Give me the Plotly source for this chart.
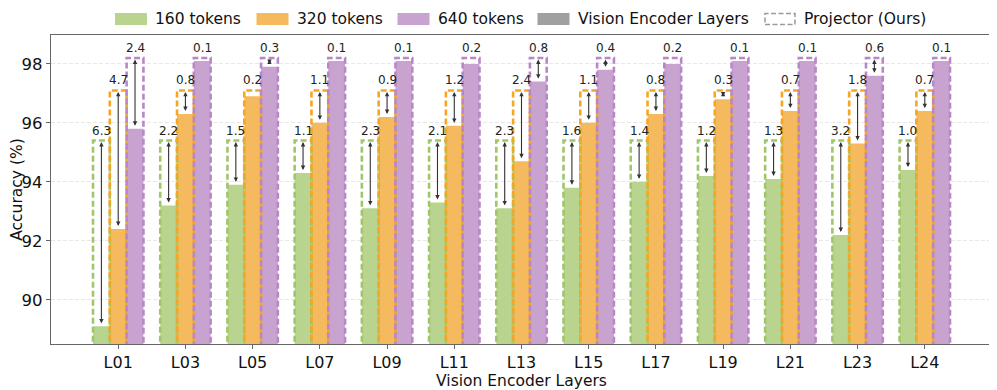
import plotly.graph_objects as go

# data
layers = ["L01", "L03", "L05", "L07", "L09", "L11", "L13", "L15", "L17", "L19", "L21", "L23", "L24"]

# accuracy of the vision encoder layers (bars)
enc_160 = [89.1, 93.2, 93.9, 94.3, 93.1, 93.3, 93.1, 93.8, 94.0, 94.2, 94.1, 92.2, 94.4]
enc_320 = [92.4, 96.3, 96.9, 96.0, 96.2, 95.9, 94.7, 96.0, 96.3, 96.8, 96.4, 95.3, 96.4]
enc_640 = [95.8, 98.1, 97.9, 98.1, 98.1, 98.0, 97.4, 97.8, 98.0, 98.1, 98.1, 97.6, 98.1]

# accuracy of the projector (dashed boxes)
proj_160 = [95.4] * 13
proj_320 = [97.1] * 13
proj_640 = [98.2] * 13

series = [
    ("160 tokens", enc_160, proj_160, "#b9d48f", "#9fc66a", -0.25),
    ("320 tokens", enc_320, proj_320, "#f5ba5e", "#f5a623", 0.0),
    ("640 tokens", enc_640, proj_640, "#c9a3d0", "#b888c6", 0.25),
]

Y_MIN, Y_MAX = 88.5, 98.98
W = 0.25
FONT = "DejaVu Sans"

# the page body has an 8px margin, so the figure is shrunk by that much
OFF = 8
FIG_W, FIG_H = 997 - OFF, 390 - OFF
L, T, PW, PH = 51, 35, 941, 309  # plot area in page pixels

fig = go.Figure()
shapes = []
annotations = []

for name, enc, proj, fill, edge, off in series:
    xs = [i + off for i in range(len(layers))]
    # projector boxes: white interior below the bars, dashed outline on top
    for x, p in zip(xs, proj):
        shapes.append(dict(type="rect", xref="x", yref="y", x0=x - W / 2, x1=x + W / 2,
                           y0=Y_MIN - 0.3, y1=p, fillcolor="white", line=dict(width=0),
                           layer="below"))
    fig.add_trace(go.Bar(x=xs, y=enc, width=W, name=name, marker_color=fill,
                         marker_line_width=0, showlegend=False))
    for x, p in zip(xs, proj):
        shapes.append(dict(type="rect", xref="x", yref="y", x0=x - W / 2, x1=x + W / 2,
                           y0=Y_MIN - 0.3, y1=p, fillcolor="rgba(0,0,0,0)",
                           line=dict(color=edge, width=2.6, dash="6px,3px"), layer="above"))
    # gap arrows and labels
    for x, v, p in zip(xs, enc, proj):
        annotations.append(dict(x=x, y=p, ax=x, ay=v, xref="x", yref="y", axref="x", ayref="y",
                                text="", showarrow=True, arrowside="end+start", arrowhead=2,
                                startarrowhead=2, arrowsize=0.8, startarrowsize=0.8,
                                arrowwidth=1.1, arrowcolor="#333333", standoff=1.5,
                                startstandoff=1.5))
        annotations.append(dict(x=x, y=p, xref="x", yref="y", text=f"{p - v:.1f}",
                                showarrow=False, yanchor="bottom", yshift=1,
                                font=dict(size=12, color="#222222", family=FONT)))


def px(x):
    return (x - L) / PW


def py(y):
    return (T + PH - y) / PH


# hand-drawn legend along the top
legend_items = [
    ("160 tokens", 115, "#b9d48f", None),
    ("320 tokens", 256.5, "#f5ba5e", None),
    ("640 tokens", 397.5, "#c9a3d0", None),
    ("Vision Encoder Layers", 537.5, "#a0a0a0", None),
    ("Projector (Ours)", 764, None, "#9a9a9a"),
]
for label, x0, fill, dash_col in legend_items:
    if fill:
        shapes.append(dict(type="rect", xref="paper", yref="paper", x0=px(x0), x1=px(x0 + 32),
                           y0=py(25), y1=py(13), fillcolor=fill, line=dict(width=0)))
    else:
        shapes.append(dict(type="rect", xref="paper", yref="paper", x0=px(x0 + 1), x1=px(x0 + 31),
                           y0=py(24.5), y1=py(13.5), fillcolor="rgba(0,0,0,0)",
                           line=dict(color=dash_col, width=1.5, dash="5px,2.5px")))
    annotations.append(dict(x=px(x0 + 38), y=py(19), xref="paper", yref="paper", text=label,
                            showarrow=False, xanchor="left", yanchor="middle",
                            font=dict(size=15.5, color="#111111", family=FONT)))

fig.update_layout(
    width=FIG_W, height=FIG_H,
    margin=dict(l=L - OFF, r=FIG_W - (L - OFF) - PW, t=T - OFF, b=FIG_H - (T - OFF) - PH),
    plot_bgcolor="white", paper_bgcolor="white",
    font=dict(family=FONT, size=15.5, color="#111111"),
    showlegend=False,
    shapes=shapes,
    annotations=annotations,
)
fig.update_xaxes(
    range=[-1, len(layers)], tickmode="array", tickvals=list(range(len(layers))), ticktext=layers,
    showline=True, linecolor="#666666", linewidth=1.2, mirror=True, tickfont=dict(size=16),
    ticks="outside", ticklen=4, tickcolor="#666666", showgrid=False, zeroline=False,
    automargin=False,
    title=dict(text="Vision Encoder Layers", standoff=1, font=dict(size=15.5)),
)
fig.update_yaxes(
    range=[Y_MIN, Y_MAX], tickvals=[90, 92, 94, 96, 98], tickfont=dict(size=16.5),
    showline=True, linecolor="#666666", linewidth=1.2, mirror=True,
    ticks="outside", ticklen=4, tickcolor="#666666", automargin=False,
    showgrid=True, gridcolor="#e8e8e8", griddash="4px,2px", gridwidth=0.8, zeroline=False,
    title=dict(text="Accuracy (%)", standoff=9, font=dict(size=15.5)),
)

fig.write_html("out.html")
